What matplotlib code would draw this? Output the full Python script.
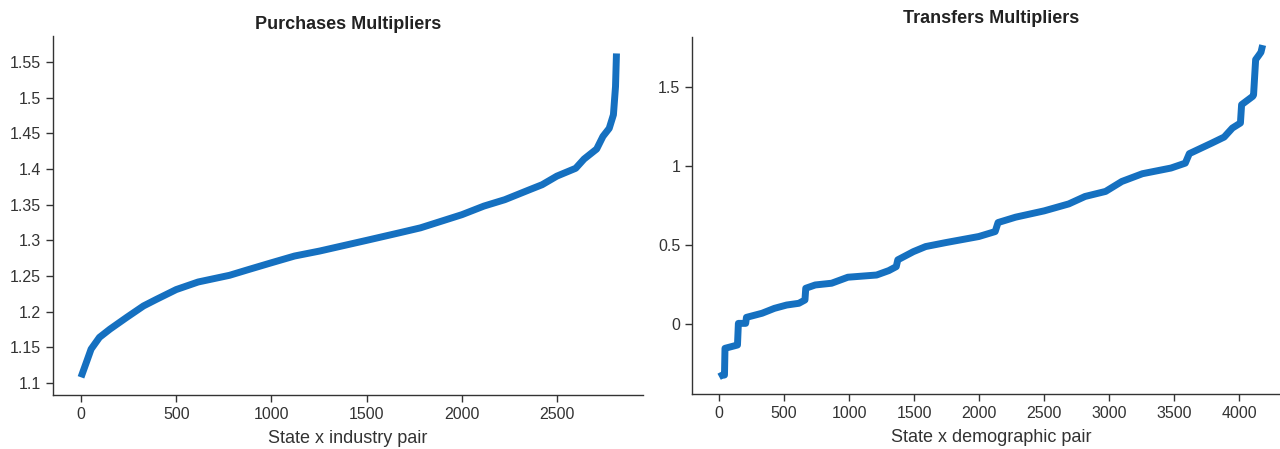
import matplotlib
matplotlib.use("Agg")
import matplotlib.pyplot as plt

plt.rcParams['font.family'] = ['Liberation Sans', 'DejaVu Sans']

# Purchases multipliers (sorted)
purch_idx = [0, 31, 53, 97, 152, 240, 328, 394, 500, 615, 780, 879, 1000, 1121,
             1253, 1500, 1672, 1782, 2000, 2115, 2225, 2355, 2421, 2498, 2597,
             2641, 2707, 2740, 2773, 2795, 2806, 2811]
purch_val = [1.108, 1.131, 1.1475, 1.164, 1.1755, 1.192, 1.208, 1.217, 1.231,
             1.2416, 1.251, 1.259, 1.2686, 1.278, 1.285, 1.300, 1.3106, 1.3175,
             1.336, 1.348, 1.357, 1.371, 1.378, 1.390, 1.401, 1.414, 1.428,
             1.4457, 1.457, 1.476, 1.5155, 1.562]

# Transfers multipliers (sorted)
trans_idx = [0, 20, 41, 45, 141, 148, 204, 210, 330, 425, 519, 613, 660, 666,
             739, 865, 990, 1211, 1305, 1362, 1374, 1494, 1588, 1745, 1997,
             2123, 2145, 2280, 2500, 2689, 2814, 2972, 3097, 3255, 3475, 3585,
             3616, 3789, 3884, 3947, 4009, 4018, 4104, 4110, 4126, 4150, 4167, 4180]
trans_val = [-0.334, -0.325, -0.323, -0.154, -0.133, 0.004, 0.004, 0.042, 0.068,
             0.099, 0.12, 0.131, 0.152, 0.226, 0.247, 0.258, 0.296, 0.31, 0.338,
             0.363, 0.406, 0.458, 0.49, 0.5155, 0.5536, 0.585, 0.642, 0.676,
             0.716, 0.76, 0.807, 0.839, 0.902, 0.951, 0.987, 1.018, 1.078, 1.145,
             1.183, 1.24, 1.272, 1.388, 1.441, 1.45, 1.673, 1.70, 1.72, 1.765]

titles = ["Purchases Multipliers", "Transfers Multipliers"]
xlabels = ["State x industry pair", "State x demographic pair"]

LINE = "#1570C0"
DARK = "#333333"

fig = plt.figure(figsize=(12.8, 4.49), dpi=100)
ax1 = fig.add_axes([0.0414, 0.1203, 0.4609, 0.7996])
ax2 = fig.add_axes([0.5406, 0.1225, 0.468, 0.795])

ax1.plot(purch_idx, purch_val, color=LINE, lw=5, solid_capstyle='butt')
ax2.plot(trans_idx, trans_val, color=LINE, lw=5, solid_capstyle='butt')

ax1.set_yticks([1.1, 1.15, 1.2, 1.25, 1.3, 1.35, 1.4, 1.45, 1.5, 1.55])
ax1.set_yticklabels(["1.1", "1.15", "1.2", "1.25", "1.3", "1.35", "1.4", "1.45", "1.5", "1.55"])
ax1.set_xticks([0, 500, 1000, 1500, 2000, 2500])
ax2.set_yticks([0, 0.5, 1, 1.5])
ax2.set_yticklabels(["0", "0.5", "1", "1.5"])
ax2.set_xticks([0, 500, 1000, 1500, 2000, 2500, 3000, 3500, 4000])

ax1.set_xlim(-147, 2950)
ax1.set_ylim(1.0832, 1.5865)
ax2.set_xlim(-209, 4398)
ax2.set_ylim(-0.443, 1.816)

for ax, t, xl, pad in zip([ax1, ax2], titles, xlabels, [5, 10]):
    ax.set_title(t, fontsize=13, fontweight='bold', color='#222222', pad=pad)
    ax.set_xlabel(xl, fontsize=13, color=DARK, labelpad=6)
    for s in ['top', 'right']:
        ax.spines[s].set_visible(False)
    for s in ['left', 'bottom']:
        ax.spines[s].set_color(DARK)
        ax.spines[s].set_linewidth(1.0)
    ax.tick_params(direction='out', length=5, width=1, colors=DARK,
                   labelsize=11.5, labelcolor=DARK)

fig.savefig("out.png", dpi=100)
